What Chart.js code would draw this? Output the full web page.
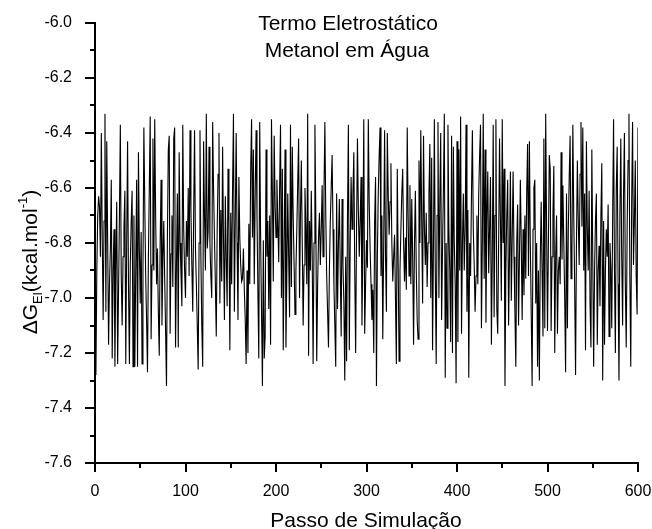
<!DOCTYPE html>
<html>
<head>
<meta charset="utf-8">
<script src="https://cdn.jsdelivr.net/npm/chart.js@4.4.1/dist/chart.umd.min.js"></script>
<style>
  html, body { margin: 0; padding: 0; background: #fff; }
  canvas { display: block; }
</style>
</head>
<body>
<canvas id="lineChart" width="652" height="529"></canvas>
<script>
// Delta G (kcal/mol) for each simulation step 0..600
const deltaG = [
  -7.20, -7.28, -6.90, -6.70, -6.63, -6.67, -6.85, -6.40, -6.78, -7.08,
  -6.72, -6.33, -7.05, -6.43, -6.80, -7.17, -6.95, -6.82, -6.57, -7.22,
  -6.90, -6.75, -7.25, -6.88, -6.65, -7.24, -6.98, -6.70, -6.37, -6.92,
  -7.10, -6.85, -6.74, -6.61, -7.24, -6.80, -6.43, -6.95, -7.24, -6.88,
  -6.72, -6.61, -7.25, -6.70, -7.25, -6.90, -6.57, -7.25, -6.47, -6.82,
  -7.02, -6.76, -7.24, -6.90, -6.38, -6.66, -6.92, -7.08, -7.27, -6.85,
  -6.60, -6.34, -7.15, -6.88, -6.42, -6.90, -6.35, -6.70, -6.95, -6.82,
  -7.05, -7.21, -6.80, -6.57, -7.10, -6.86, -6.72, -6.93, -7.12, -7.32,
  -6.78, -6.46, -6.41, -7.13, -6.84, -6.70, -6.96, -6.42, -6.38, -7.18,
  -6.88, -6.62, -7.18, -6.47, -6.80, -6.91, -7.03, -6.37, -6.75, -6.90,
  -7.00, -6.72, -6.85, -6.60, -6.92, -6.39, -6.68, -6.88, -7.05, -6.70,
  -6.39, -6.82, -6.95, -7.10, -7.26, -6.80, -6.39, -6.85, -7.10, -7.25,
  -6.43, -6.70, -6.90, -6.33, -6.82, -6.76, -6.45, -6.80, -6.92, -7.00,
  -6.36, -6.60, -6.78, -6.95, -7.14, -6.75, -6.55, -6.40, -7.02, -6.68,
  -6.94, -6.45, -6.80, -7.08, -6.63, -6.85, -7.03, -6.53, -6.74, -7.19,
  -6.69, -6.95, -6.60, -6.33, -7.05, -6.72, -6.40, -6.80, -7.08, -6.56,
  -6.78, -6.88, -6.94, -6.93, -6.82, -6.97, -7.08, -7.24, -6.90, -7.20,
  -6.73, -6.95, -6.54, -6.35, -6.78, -6.46, -6.95, -6.62, -6.39, -6.70,
  -6.98, -7.22, -6.36, -6.78, -7.05, -7.32, -6.79, -7.22, -7.14, -6.46,
  -6.85, -6.72, -7.04, -6.70, -7.17, -6.35, -6.62, -6.94, -6.41, -6.66,
  -6.78, -6.57, -6.72, -6.87, -6.60, -6.37, -7.00, -6.53, -7.19, -6.80,
  -6.46, -7.18, -6.90, -6.62, -6.85, -7.07, -6.37, -6.96, -6.45, -6.70,
  -6.88, -7.06, -6.90, -6.75, -6.58, -6.42, -7.00, -6.70, -6.50, -6.80,
  -7.10, -6.88, -6.60, -6.75, -6.95, -6.33, -7.21, -6.72, -6.90, -6.61,
  -6.85, -7.24, -6.80, -6.37, -6.70, -7.23, -6.95, -6.78, -6.69, -6.88,
  -6.75, -6.59, -6.85, -6.62, -6.36, -6.70, -6.92, -7.05, -7.18, -6.90,
  -6.72, -6.60, -6.48, -6.75, -6.95, -7.10, -7.25, -6.62, -7.04, -6.80,
  -6.64, -6.90, -7.14, -6.64, -6.88, -7.02, -7.30, -6.85, -7.23, -6.70,
  -6.37, -7.19, -6.80, -6.56, -6.75, -6.62, -6.47, -6.90, -7.20, -6.75,
  -6.42, -6.68, -6.85, -6.72, -6.56, -7.10, -6.80, -6.35, -7.13, -6.95,
  -6.79, -6.89, -6.35, -6.65, -6.82, -6.95, -7.08, -6.97, -7.20, -6.72,
  -6.56, -7.32, -6.85, -6.62, -6.48, -6.38, -6.92, -6.70, -7.15, -6.80,
  -6.39, -6.85, -7.05, -6.40, -6.62, -6.77, -6.65, -6.51, -6.80, -6.94,
  -6.85, -6.77, -7.00, -7.24, -6.53, -6.88, -7.23, -6.90, -6.75, -6.62,
  -6.53, -6.80, -6.94, -6.78, -6.97, -6.38, -6.70, -6.92, -6.59, -6.95,
  -6.64, -6.85, -7.17, -6.80, -6.61, -6.90, -7.08, -7.15, -6.50, -6.80,
  -6.39, -6.72, -7.02, -6.41, -6.75, -6.88, -6.69, -6.96, -6.80, -6.62,
  -6.44, -7.00, -6.49, -7.19, -6.80, -6.35, -6.90, -7.24, -6.70, -6.36,
  -7.00, -6.65, -6.40, -7.08, -6.82, -6.60, -6.33, -7.29, -6.80, -7.11,
  -6.37, -6.75, -6.90, -7.16, -6.41, -7.20, -6.45, -6.80, -6.95, -7.31,
  -6.43, -7.16, -6.46, -6.90, -6.34, -7.13, -6.80, -6.62, -6.90, -6.75,
  -6.37, -7.05, -6.68, -7.29, -6.80, -6.92, -6.62, -6.39, -6.75, -6.88,
  -7.05, -6.92, -6.70, -6.95, -6.62, -6.48, -6.37, -7.11, -6.80, -6.33,
  -6.93, -6.46, -7.09, -6.70, -6.54, -6.91, -6.75, -6.56, -7.17, -6.85,
  -6.37, -7.07, -6.70, -6.35, -7.04, -7.13, -6.80, -6.42, -6.72, -7.01,
  -6.35, -6.80, -6.53, -7.32, -6.90, -6.70, -6.57, -7.10, -6.85, -6.54,
  -7.01, -6.78, -6.54, -6.85, -7.05, -7.25, -6.80, -6.66, -7.10, -6.85,
  -6.57, -6.80, -7.08, -6.75, -6.99, -6.70, -6.93, -6.62, -6.44, -6.92,
  -6.43, -6.80, -7.05, -7.32, -6.75, -6.60, -6.57, -7.02, -6.80, -7.25,
  -6.90, -7.30, -6.86, -6.65, -6.90, -7.14, -6.42, -7.11, -6.33, -6.75,
  -7.12, -6.80, -6.48, -6.53, -7.12, -6.85, -6.70, -6.52, -7.20, -6.85,
  -6.70, -7.13, -6.90, -6.85, -6.95, -6.47, -6.86, -6.59, -6.80, -7.00,
  -7.27, -6.62, -7.11, -6.75, -6.56, -6.41, -6.93, -6.82, -6.37, -6.70,
  -6.95, -7.28, -6.80, -6.50, -6.72, -6.88, -6.55, -6.36, -6.74, -6.38,
  -6.90, -6.62, -7.19, -6.43, -6.75, -6.90, -6.61, -7.02, -7.18, -6.46,
  -6.85, -7.25, -6.90, -6.72, -6.62, -7.17, -6.90, -6.81, -7.03, -6.70,
  -6.51, -7.30, -6.72, -7.17, -6.90, -6.75, -6.85, -6.66, -7.14, -6.80,
  -6.89, -7.11, -6.70, -6.35, -6.90, -7.20, -6.60, -6.45, -6.95, -7.30,
  -6.70, -6.42, -6.85, -7.10, -6.62, -6.40, -6.95, -7.18, -6.75, -6.50,
  -6.33, -6.92, -7.25, -6.65, -6.36, -6.88, -6.72, -6.50, -6.92, -7.06,
  -6.38
];

const xTicks = [0, 100, 200, 300, 400, 500, 600];
const yTicks = [-7.6, -7.4, -7.2, -7.0, -6.8, -6.6, -6.4, -6.2, -6.0];

const FONT = "'Liberation Sans', Arial, sans-serif";

// outward major/minor tick marks like Origin
const axisDecor = {
  id: "axisDecor",
  afterDraw(chart) {
    const ctx = chart.ctx;
    const xs = chart.scales.x, ys = chart.scales.y;
    const area = chart.chartArea;
    ctx.save();
    ctx.strokeStyle = "#000";
    ctx.lineWidth = 2;
    ctx.beginPath();
    for (let v = 0; v <= 600; v += 50) {
      const px = Math.round(xs.getPixelForValue(v));
      const len = v % 100 === 0 ? 9 : 5;
      ctx.moveTo(px, area.bottom);
      ctx.lineTo(px, area.bottom + len);
    }
    for (let i = 0; i <= 16; i++) {
      const v = -7.6 + i * 0.1;
      const py = Math.round(ys.getPixelForValue(v));
      const len = i % 2 === 0 ? 10 : 5;
      ctx.moveTo(area.left, py);
      ctx.lineTo(area.left - len, py);
    }
    ctx.stroke();

    // title inside the plot
    ctx.fillStyle = "#000";
    ctx.textAlign = "center";
    ctx.textBaseline = "alphabetic";
    ctx.font = "21px " + FONT;
    ctx.fillText("Termo Eletrostático", 348, 30);
    ctx.fillText("Metanol em Água", 347, 57);

    // x axis title
    ctx.fillText("Passo de Simulação", 366, 527);

    // y axis title with sub/superscript
    ctx.translate(37, 262);
    ctx.rotate(-Math.PI / 2);
    ctx.textAlign = "left";
    const big = "21px " + FONT, small = "13px " + FONT;
    const parts = [
      { t: "\u0394G", f: big, dy: 0 },
      { t: "El", f: small, dy: 5 },
      { t: "(kcal.mol", f: big, dy: 0 },
      { t: "-1", f: small, dy: -10 },
      { t: ")", f: big, dy: 0 }
    ];
    let total = 0;
    parts.forEach(p => { ctx.font = p.f; p.w = ctx.measureText(p.t).width; total += p.w; });
    let cx = -total / 2;
    parts.forEach(p => {
      ctx.font = p.f;
      ctx.fillText(p.t, cx, p.dy);
      cx += p.w;
    });
    ctx.restore();
  }
};

const ctx = document.getElementById("lineChart").getContext("2d");
const points = deltaG.map((v, i) => ({ x: i, y: v }));

new Chart(ctx, {
  type: "line",
  data: {
    datasets: [
      {
        data: points,
        borderColor: "#000",
        borderWidth: 1.1,
        pointRadius: 0,
        tension: 0,
        fill: false
      }
    ]
  },
  options: {
    responsive: false,
    animation: false,
    layout: { padding: { top: 23, right: 14, left: 0, bottom: 0 } },
    plugins: { legend: { display: false }, tooltip: { enabled: false } },
    scales: {
      x: {
        type: "linear",
        min: xTicks[0],
        max: xTicks[xTicks.length - 1],
        afterFit: s => {
          s.height = 66;
          s.paddingLeft = 0;
          s.paddingRight = 0;
        },
        afterBuildTicks: s => { s.ticks = xTicks.map(v => ({ value: v })); },
        grid: { display: false },
        border: { display: true, color: "#000", width: 2 },
        ticks: {
          color: "#000",
          padding: 11,
          maxRotation: 0,
          font: { family: FONT, size: 16 }
        }
      },
      y: {
        type: "linear",
        min: yTicks[0],
        max: yTicks[yTicks.length - 1],
        afterFit: s => {
          s.width = 95;
          s.paddingTop = 0;
          s.paddingBottom = 0;
        },
        afterBuildTicks: s => { s.ticks = yTicks.map(v => ({ value: v })); },
        grid: { display: false },
        border: { display: true, color: "#000", width: 2 },
        ticks: {
          color: "#000",
          padding: 15,
          font: { family: FONT, size: 16 },
          callback: v => v.toFixed(1)
        }
      }
    }
  },
  plugins: [axisDecor]
});
</script>
</body>
</html>
